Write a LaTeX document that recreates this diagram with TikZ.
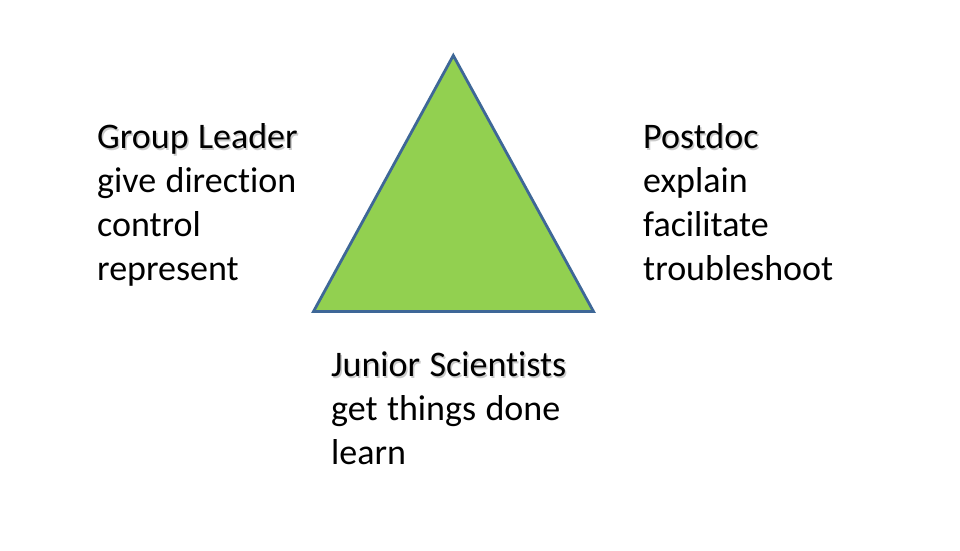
\documentclass[tikz,border=0pt]{standalone}
\usepackage{fontspec}
\setmainfont{Carlito}[Ligatures=NoCommon,WordSpace={1.15}]
\definecolor{trifill}{HTML}{92D050}
\definecolor{tridraw}{HTML}{3E6797}
\begin{document}
\begin{tikzpicture}[x=1pt,y=-1pt,
  txt/.style={anchor=base west,inner sep=0pt,font=\fontsize{36}{44}\selectfont,text=black},
  shadowtxt/.style={txt,text=black!40,opacity=0.5},
  tri/.style={fill=trifill,draw=tridraw,line width=2.8pt,line join=miter}]
\useasboundingbox[fill=white] (0,0) rectangle (960,550);
% triangle
\coordinate (apex) at (453.3,55.5);
\coordinate (bl) at (313.5,311.5);
\coordinate (br) at (593.5,311.5);
\draw[tri] (apex) -- (br) -- (bl) -- cycle;
% Group Leader
\node[shadowtxt] (glsh) at (98.5,150) {Group Leader};
\node[txt] (gl) at (97,148.5) {Group Leader};
\node[txt] (gl1) at (97,192.5) {give direction};
\node[txt] (gl2) at (97,236.5) {control};
\node[txt] (gl3) at (97,280.5) {represent};
% Postdoc
\node[shadowtxt] (pdsh) at (644.5,150) {Postdoc};
\node[txt] (pd) at (643,148.5) {Postdoc};
\node[txt] (pd1) at (643,192.5) {explain};
\node[txt] (pd2) at (643,236.5) {facilitate};
\node[txt] (pd3) at (643,280.5) {troubleshoot};
% Junior Scientists
\node[shadowtxt] (jssh) at (332.5,378) {Junior Scientists};
\node[txt] (js) at (331,376.5) {Junior Scientists};
\node[txt] (js1) at (331,420.5) {get things done};
\node[txt] (js2) at (331,464.5) {learn};
\end{tikzpicture}
\end{document}
